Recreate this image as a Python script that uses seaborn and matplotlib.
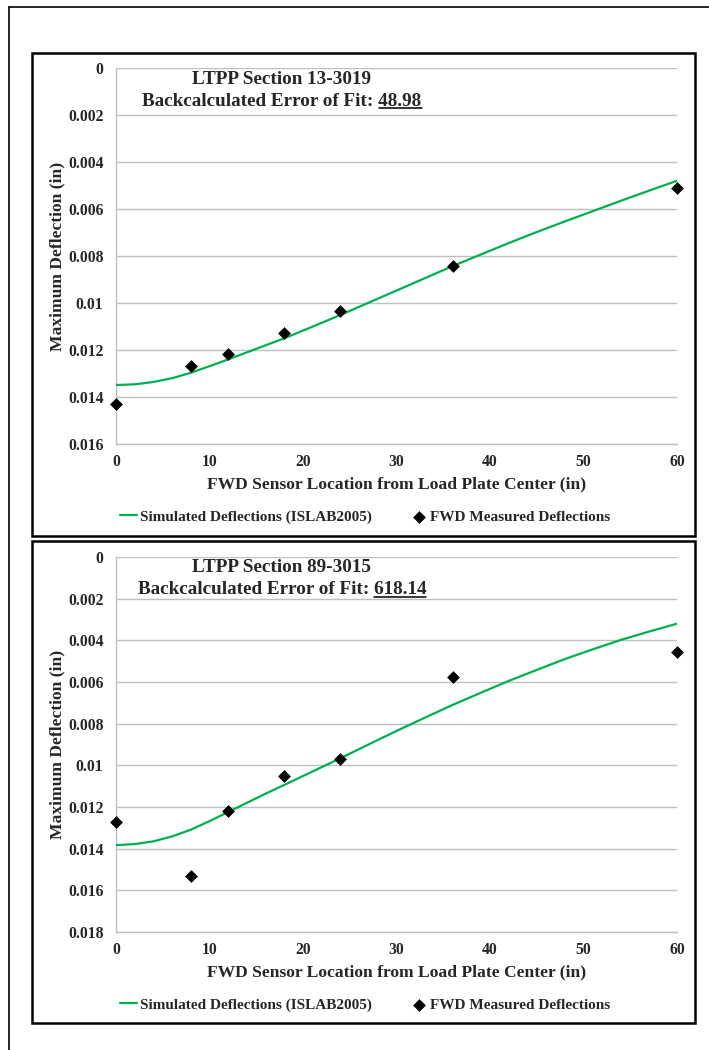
import matplotlib
matplotlib.use("Agg")
import matplotlib.pyplot as plt
import seaborn as sns
import pandas as pd
from matplotlib.patches import Rectangle
from matplotlib.lines import Line2D

# ---- data -------------------------------------------------------------
sensor_x = [0, 8, 12, 18, 24, 36, 60]

meas_13_3019 = [0.01430, 0.01268, 0.01217, 0.01129, 0.01034, 0.00843, 0.00511]
meas_89_3015 = [0.01270, 0.01530, 0.01217, 0.01050, 0.00969, 0.00576, 0.00456]

sim_x = [0, 2, 4, 6, 8, 10, 12, 14, 16, 18, 21, 24, 27, 30, 33, 36, 39, 42,
         45, 48, 51, 54, 57, 60]
sim_13_3019 = [0.01349, 0.01346, 0.01336, 0.01320, 0.01297, 0.01269, 0.01240,
               0.01210, 0.01180, 0.01150, 0.01101, 0.01051, 0.00999, 0.00947,
               0.00895, 0.00843, 0.00794, 0.00745, 0.00698, 0.00653, 0.00609,
               0.00565, 0.00522, 0.00480]
sim_89_3015 = [0.01383, 0.01378, 0.01365, 0.01341, 0.01309, 0.01268, 0.01224,
               0.01180, 0.01136, 0.01094, 0.01030, 0.00966, 0.00900, 0.00835,
               0.00772, 0.00710, 0.00652, 0.00595, 0.00542, 0.00490, 0.00443,
               0.00398, 0.00358, 0.00320]

x_ticks = [0, 10, 20, 30, 40, 50, 60]
y_ticks_1 = [0, 0.002, 0.004, 0.006, 0.008, 0.01, 0.012, 0.014, 0.016]
y_labels_1 = ["0", "0.002", "0.004", "0.006", "0.008", "0.01", "0.012", "0.014", "0.016"]
y_ticks_2 = [0, 0.002, 0.004, 0.006, 0.008, 0.01, 0.012, 0.014, 0.016, 0.018]
y_labels_2 = ["0", "0.002", "0.004", "0.006", "0.008", "0.01", "0.012", "0.014", "0.016", "0.018"]

sections = ["13-3019", "89-3015"]
errors_of_fit = ["48.98", "618.14"]

line_label = "Simulated Deflections (ISLAB2005)"
point_label = "FWD Measured Deflections"
x_title = "FWD Sensor Location from Load Plate Center (in)"
y_title = "Maximum Deflection (in)"

# ---- style ------------------------------------------------------------
sns.set_theme(style="white")
plt.rcParams["font.family"] = ["Liberation Serif", "DejaVu Serif"]
plt.rcParams["font.weight"] = "bold"

GREEN = "#00B050"
GRID = "#BFBFBF"
W, H = 709, 1050
TITLE_FS = 13.8

fig = plt.figure(figsize=(W / 100, H / 100), dpi=100)


def fx(px):
    return px / W


def fy(py):
    return 1 - py / H


# outer page border (left and top edges)
fig.add_artist(Line2D([fx(9), fx(9)], [fy(7), fy(1050)], color="black", lw=1.2,
                      transform=fig.transFigure))
fig.add_artist(Line2D([fx(9), fx(709)], [fy(7), fy(7)], color="black", lw=1.2,
                      transform=fig.transFigure))

panels = [
    dict(frame=(32, 53, 695, 536), ax=(116, 68, 677, 444), ymax=0.016,
         yt=y_ticks_1, yl=y_labels_1, sim=sim_13_3019, meas=meas_13_3019),
    dict(frame=(32, 541, 695, 1023), ax=(116, 557, 677, 932), ymax=0.018,
         yt=y_ticks_2, yl=y_labels_2, sim=sim_89_3015, meas=meas_89_3015),
]

title_lines = []
for i, p in enumerate(panels):
    x0, y0, x1, y1 = p["frame"]
    fig.add_artist(Rectangle((fx(x0), fy(y1)), fx(x1) - fx(x0), fy(y0) - fy(y1),
                             fill=False, edgecolor="black", lw=1.8,
                             transform=fig.transFigure))

    a0, b0, a1, b1 = p["ax"]
    ax = fig.add_axes([fx(a0), fy(b1), fx(a1) - fx(a0), fy(b0) - fy(b1)])

    df_sim = pd.DataFrame({"x": sim_x, "y": p["sim"]})
    df_pts = pd.DataFrame({"x": sensor_x, "y": p["meas"]})
    sns.lineplot(data=df_sim, x="x", y="y", ax=ax, color=GREEN, lw=1.6,
                 label=line_label, zorder=3)
    sns.scatterplot(data=df_pts, x="x", y="y", ax=ax, marker="D", s=36,
                    color="black", edgecolor="black", linewidth=0.5,
                    label=point_label, zorder=4, clip_on=False)

    ax.set_xlim(0, 60)
    ax.set_ylim(p["ymax"], 0)
    ax.set_xticks(x_ticks)
    ax.set_xticklabels([str(v) for v in x_ticks])
    ax.set_yticks(p["yt"])
    ax.set_yticklabels(p["yl"])
    ax.grid(axis="y", color=GRID, lw=1.0)
    ax.grid(axis="x", visible=False)
    ax.set_axisbelow(True)
    for s in ["top", "right"]:
        ax.spines[s].set_visible(False)
    for s in ["left", "bottom"]:
        ax.spines[s].set_color(GRID)
        ax.spines[s].set_linewidth(1.0)
    ax.tick_params(axis="both", which="major", length=3.5, width=0.8, color=GRID,
                   direction="out", labelsize=11.3)
    ax.tick_params(axis="y", pad=5.5)
    ax.tick_params(axis="x", pad=3.5)
    for lab in ax.get_xticklabels() + ax.get_yticklabels():
        lab.set_fontweight("bold")

    ax.set_xlabel(x_title, fontsize=12.6, fontweight="bold")
    ax.xaxis.label.set_va("center")
    ax.xaxis.set_label_coords(fx(396.5), fy(b1 + 40), transform=fig.transFigure)
    ax.set_ylabel(y_title, fontsize=12.6, fontweight="bold")
    ax.yaxis.label.set_va("center")
    ax.yaxis.set_label_coords(fx(57), fy((b0 + b1) / 2), transform=fig.transFigure)

    ax.legend(loc="center", ncol=2, frameon=False,
              handlelength=1.1, handletextpad=0.2, columnspacing=2.5,
              bbox_to_anchor=(fx(365.5), fy(b1 + 73)),
              bbox_transform=fig.transFigure, prop={"weight": "bold", "size": 11})

    ax.text(fx(282), fy(b0 + 11), f"LTPP Section {sections[i]}", transform=fig.transFigure,
            ha="center", va="center", fontsize=TITLE_FS, fontweight="bold")
    t2 = ax.text(fx(282), fy(b0 + 33), f"Backcalculated Error of Fit: {errors_of_fit[i]}",
                 transform=fig.transFigure, ha="center", va="center",
                 fontsize=TITLE_FS, fontweight="bold")
    title_lines.append((t2, errors_of_fit[i]))

# underline the error-of-fit values
fig.canvas.draw()
renderer = fig.canvas.get_renderer()
inv = fig.transFigure.inverted()
for t2, num in title_lines:
    bb = t2.get_window_extent(renderer)
    tmp = fig.text(0, 0, num, fontsize=TITLE_FS, fontweight="bold")
    nw = tmp.get_window_extent(renderer).width
    tmp.remove()
    yline = bb.y0 + 1.5
    (u0, v0) = inv.transform((bb.x1 - nw, yline))
    (u1, _) = inv.transform((bb.x1, yline))
    fig.add_artist(Line2D([u0, u1], [v0, v0], color="black", lw=1.1,
                          transform=fig.transFigure))

fig.savefig("out.png", dpi=100)
